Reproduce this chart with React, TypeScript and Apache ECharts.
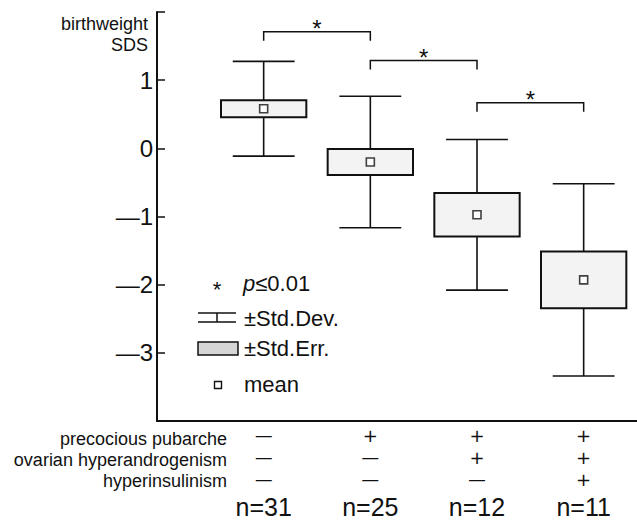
import React, { useEffect, useRef } from 'react';
import * as echarts from 'echarts';

// Birthweight SDS per patient group: mean, ±SD (whiskers) and ±SE (box)
const groups = [1, 2, 3, 4];
const groupSizes = ['n=31', 'n=25', 'n=12', 'n=11'];
const meanSDS = [0.58, -0.2, -0.975, -1.93];
const stdDev = [0.695, 0.965, 1.105, 1.41];
const stdErr = [0.125, 0.19, 0.32, 0.415];

// Clinical features of each group (+ present, − absent)
const rowNames = ['precocious pubarche', 'ovarian hyperandrogenism', 'hyperinsulinism'];
const precociousPubarche = ['-', '+', '+', '+'];
const ovarianHyperandrogenism = ['-', '-', '+', '+'];
const hyperinsulinism = ['-', '-', '-', '+'];

const yTicks = [-3, -2, -1, 0, 1];

// Significance brackets between neighbouring groups
const bracketFrom = [1, 2, 3];
const bracketTo = [2, 3, 4];
const bracketLevel = [1.71, 1.29, 0.67];
const bracketLabel = ['*', '*', '*'];

const FONT = '"Liberation Sans", Arial, Helvetica, sans-serif';
const SIGN_FONT = '"DejaVu Sans", sans-serif';
const INK = '#111';

export default function App() {
  const ref = useRef<HTMLDivElement>(null);

  useEffect(() => {
    if (!ref.current) return;
    const chart = echarts.init(ref.current, null, { renderer: 'svg' });

    const signStyle = (s: string) => (s === '+' ? `{p|+}` : `{m|—}`);

    const option: any = {
      animation: false,
      backgroundColor: '#fff',
      grid: { left: 157, right: 0, top: 12, bottom: 100 },
      xAxis: {
        type: 'value',
        min: 0,
        max: 4.5,
        interval: 1,
        axisLine: { show: true, onZero: false, lineStyle: { color: INK, width: 2 } },
        axisTick: { show: false },
        splitLine: { show: false },
        axisLabel: {
          margin: 3,
          showMaxLabel: false,
          formatter: (v: number) => {
            const i = groups.indexOf(v);
            if (i < 0) return '';
            return [
              signStyle(precociousPubarche[i]),
              signStyle(ovarianHyperandrogenism[i]),
              signStyle(hyperinsulinism[i]),
              `{n|${groupSizes[i]}}`,
            ].join('\n');
          },
          rich: {
            p: { fontFamily: SIGN_FONT, fontSize: 18, lineHeight: 22, color: INK },
            m: { fontFamily: FONT, fontSize: 16, lineHeight: 22, color: INK },
            n: { fontFamily: FONT, fontSize: 25, lineHeight: 34, color: INK },
          },
        },
      },
      yAxis: {
        type: 'value',
        min: -4,
        max: 2,
        interval: 1,
        axisLine: { show: true, lineStyle: { color: INK, width: 2 } },
        axisTick: { show: true, inside: true, length: 8, lineStyle: { color: INK, width: 1.5 } },
        splitLine: { show: false },
        axisLabel: {
          margin: 4,
          fontFamily: FONT,
          fontSize: 24,
          color: INK,
          formatter: (v: number) => {
            if (!yTicks.includes(v)) return '';
            return v < 0 ? `—${Math.abs(v)}` : `${v}`;
          },
        },
      },
      series: [
        {
          type: 'custom',
          name: 'SD / SE',
          data: groups.map((g, i) => [g, meanSDS[i], stdDev[i], stdErr[i]]),
          z: 2,
          renderItem: (params: any, api: any) => {
            const x = api.value(0);
            const m = api.value(1);
            const sd = api.value(2);
            const se = api.value(3);
            const [cx, yTop] = api.coord([x, m + sd]);
            const [, yBot] = api.coord([x, m - sd]);
            const [, bTop] = api.coord([x, m + se]);
            const [, bBot] = api.coord([x, m - se]);
            const halfBox = api.size([0.4, 0])[0];
            const halfCap = api.size([0.29, 0])[0];
            const ls = { stroke: INK, lineWidth: 1.6 };
            return {
              type: 'group',
              children: [
                { type: 'line', shape: { x1: cx, y1: yTop, x2: cx, y2: yBot }, style: ls },
                { type: 'line', shape: { x1: cx - halfCap, y1: yTop, x2: cx + halfCap, y2: yTop }, style: ls },
                { type: 'line', shape: { x1: cx - halfCap, y1: yBot, x2: cx + halfCap, y2: yBot }, style: ls },
                {
                  type: 'rect',
                  shape: { x: cx - halfBox, y: bTop, width: halfBox * 2, height: bBot - bTop },
                  style: { fill: '#f3f3f3', stroke: INK, lineWidth: 2 },
                },
              ],
            };
          },
        },
        {
          type: 'scatter',
          name: 'mean',
          data: groups.map((g, i) => [g, meanSDS[i]]),
          symbol: 'rect',
          symbolSize: 8,
          z: 3,
          itemStyle: { color: '#fff', borderColor: INK, borderWidth: 1.6 },
        },
        {
          type: 'custom',
          name: 'significance',
          data: bracketFrom.map((f, i) => [f, bracketTo[i], bracketLevel[i]]),
          z: 2,
          renderItem: (params: any, api: any) => {
            const [x1, y] = api.coord([api.value(0), api.value(2)]);
            const [x2] = api.coord([api.value(1), api.value(2)]);
            return {
              type: 'group',
              children: [
                {
                  type: 'polyline',
                  shape: { points: [[x1, y + 9], [x1, y], [x2, y], [x2, y + 9]] },
                  style: { fill: 'none', stroke: INK, lineWidth: 1.5 },
                },
                {
                  type: 'text',
                  x: (x1 + x2) / 2,
                  y: y - 3,
                  style: {
                    text: bracketLabel[params.dataIndex],
                    fontFamily: FONT,
                    fontSize: 24,
                    fill: INK,
                    align: 'center',
                    verticalAlign: 'middle',
                  },
                },
              ],
            };
          },
        },
      ],
      graphic: [
        {
          type: 'text',
          x: 148,
          y: 13,
          style: {
            text: 'birthweight\nSDS',
            fontFamily: FONT,
            fontSize: 18,
            lineHeight: 21,
            fill: INK,
            align: 'right',
            verticalAlign: 'top',
          },
        },
        ...rowNames.map((name, i) => ({
          type: 'text',
          x: 227,
          y: 439 + i * 21,
          style: {
            text: name,
            fontFamily: FONT,
            fontSize: 18,
            fill: INK,
            align: 'right',
            verticalAlign: 'middle',
          },
        })),
        // key
        {
          type: 'text',
          x: 217,
          y: 289,
          style: { text: '*', fontFamily: FONT, fontSize: 22, fill: INK, align: 'center', verticalAlign: 'middle' },
        },
        {
          type: 'text',
          x: 243,
          y: 283,
          style: {
            text: '{i|p}≤0.01',
            fontFamily: FONT,
            fontSize: 22,
            fill: INK,
            verticalAlign: 'middle',
            rich: { i: { fontFamily: FONT, fontSize: 22, fontStyle: 'italic', fill: INK } },
          },
        },
        { type: 'line', shape: { x1: 198, y1: 313, x2: 236, y2: 313 }, style: { stroke: INK, lineWidth: 1.5 } },
        { type: 'line', shape: { x1: 198, y1: 322, x2: 236, y2: 322 }, style: { stroke: INK, lineWidth: 1.5 } },
        { type: 'line', shape: { x1: 217, y1: 313, x2: 217, y2: 322 }, style: { stroke: INK, lineWidth: 1.5 } },
        {
          type: 'text',
          x: 244,
          y: 318,
          style: { text: '±Std.Dev.', fontFamily: FONT, fontSize: 22, fill: INK, verticalAlign: 'middle' },
        },
        {
          type: 'rect',
          shape: { x: 198, y: 342, width: 40, height: 13 },
          style: { fill: '#d6d6d6', stroke: INK, lineWidth: 1.5 },
        },
        {
          type: 'text',
          x: 244,
          y: 348,
          style: { text: '±Std.Err.', fontFamily: FONT, fontSize: 22, fill: INK, verticalAlign: 'middle' },
        },
        {
          type: 'rect',
          shape: { x: 214.5, y: 381.5, width: 7, height: 7 },
          style: { fill: '#fff', stroke: INK, lineWidth: 1.4 },
        },
        {
          type: 'text',
          x: 244,
          y: 384,
          style: { text: 'mean', fontFamily: FONT, fontSize: 22, fill: INK, verticalAlign: 'middle' },
        },
      ],
    };

    chart.setOption(option);
    return () => chart.dispose();
  }, []);

  return (
    <div
      ref={ref}
      style={{ position: 'fixed', left: 0, top: 0, width: 637, height: 521, background: '#fff' }}
    />
  );
}
